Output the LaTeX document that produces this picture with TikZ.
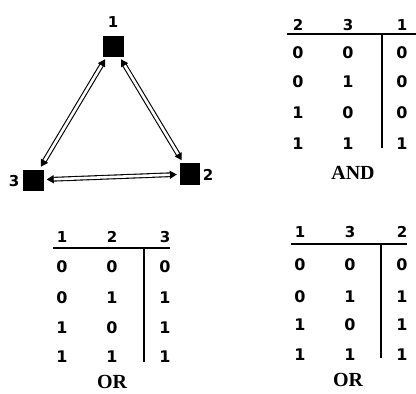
\documentclass[tikz,border=0pt]{standalone}
\usepackage{fontspec}
\setmainfont{Liberation Serif}
\newfontfamily\digfont{DejaVu Sans}
\usetikzlibrary{arrows.meta}
\begin{document}
\begin{tikzpicture}[x=1pt,y=-1pt,
  sq/.style={fill=black,minimum width=21pt,minimum height=21pt,inner sep=0pt},
  lab/.style={font=\digfont\bfseries\fontsize{15}{15}\selectfont,inner sep=0pt},
  dig/.style={font=\digfont\bfseries\fontsize{16}{16}\selectfont,inner sep=0pt},
  hd/.style={font=\digfont\bfseries\fontsize{15}{15}\selectfont,inner sep=0pt},
  captxt/.style={font=\bfseries\fontsize{20}{20}\selectfont,inner sep=0pt},
  hrule/.style={line width=1.4pt},
  link/.style={double=white,double distance=2.6pt,line width=1.1pt,
    {Triangle[length=7pt,width=8pt]}-{Triangle[length=7pt,width=8pt]},shorten <=3pt,shorten >=3pt}]
\useasboundingbox (0,0) rectangle (416,394);
% triangle graph
\node[sq] (n1) at (113,46) {};
\node[sq,minimum width=20pt,minimum height=22pt] (n2) at (190,174) {};
\node[sq] (n3) at (33,180) {};
\node[lab] (l1) at (113,22) {1};
\node[lab] (l2) at (208,175) {2};
\node[lab] (l3) at (14,181) {3};
\draw[link] (n1) -- (n3);
\draw[link] (n1) -- (n2);
\draw[link] (n3) -- (n2);
% AND table
\node[hd] (a1) at (298,25) {2};
\node[hd] (a2) at (348,25) {3};
\node[hd] (a3) at (402,25) {1};
\coordinate (ah1) at (287,34); \coordinate (ah2) at (416,34);
\coordinate (av1) at (382,34); \coordinate (av2) at (382,148);
\draw[hrule] (ah1) -- (ah2);
\draw[line width=1.1pt] (av1) -- (av2);
\foreach \a/\b/\c/\y in {0/0/0/53,0/1/0/82,1/0/0/113,1/1/1/144}{
  \node[dig] (ar\y a) at (298,\y) {\a};
  \node[dig] (ar\y b) at (348,\y) {\b};
  \node[dig] (ar\y c) at (402,\y) {\c};
}
\node[captxt] (andl) at (353,173) {AND};
% OR table left
\node[hd] (b1) at (62,237) {1};
\node[hd] (b2) at (112,237) {2};
\node[hd] (b3) at (165,237) {3};
\coordinate (bh1) at (53,248); \coordinate (bh2) at (170,248);
\coordinate (bv1) at (144,248); \coordinate (bv2) at (144,362);
\draw[hrule] (bh1) -- (bh2);
\draw[line width=1.1pt] (bv1) -- (bv2);
\foreach \a/\b/\c/\y in {0/0/0/267,0/1/1/298,1/0/1/328,1/1/1/357}{
  \node[dig] (br\y a) at (62,\y) {\a};
  \node[dig] (br\y b) at (112,\y) {\b};
  \node[dig] (br\y c) at (165,\y) {\c};
}
\node[captxt] (orl) at (112,382) {OR};
% OR table right
\node[hd] (c1) at (300,232) {1};
\node[hd] (c2) at (350,232) {3};
\node[hd] (c3) at (402,232) {2};
\coordinate (ch1) at (291,244); \coordinate (ch2) at (407,244);
\coordinate (cv1) at (381,244); \coordinate (cv2) at (381,358);
\draw[hrule] (ch1) -- (ch2);
\draw[line width=1.1pt] (cv1) -- (cv2);
\foreach \a/\b/\c/\y in {0/0/0/265,0/1/1/297,1/0/1/325,1/1/1/355}{
  \node[dig] (cr\y a) at (300,\y) {\a};
  \node[dig] (cr\y b) at (350,\y) {\b};
  \node[dig] (cr\y c) at (402,\y) {\c};
}
\node[captxt] (orr) at (348,380) {OR};
\end{tikzpicture}
\end{document}
